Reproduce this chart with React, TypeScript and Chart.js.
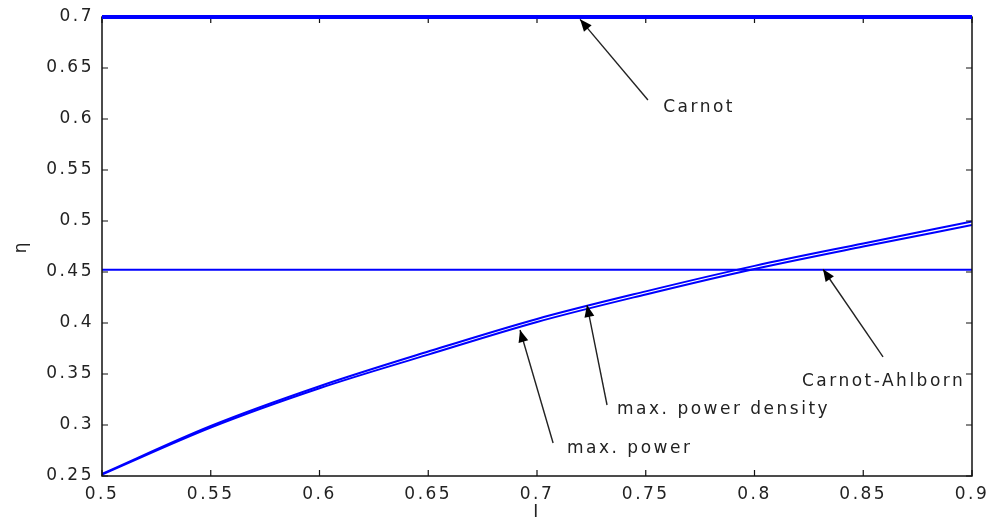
import React, { useEffect, useRef } from "react";
import { Chart, registerables } from "chart.js";

Chart.register(...registerables);

// ---- data ----
const X_VALUES = [0.5, 0.55, 0.6, 0.65, 0.7, 0.75, 0.8, 0.85, 0.9];
const MAX_POWER_DENSITY = [0.252, 0.299, 0.338, 0.372, 0.404, 0.431, 0.456, 0.478, 0.4995];
const MAX_POWER = [0.2515, 0.2975, 0.336, 0.369, 0.401, 0.428, 0.453, 0.475, 0.496];
const CARNOT = 0.7;
const CARNOT_AHLBORN = 0.4523;
const X_TICKS = [0.5, 0.55, 0.6, 0.65, 0.7, 0.75, 0.8, 0.85, 0.9];
const Y_TICKS = [0.25, 0.3, 0.35, 0.4, 0.45, 0.5, 0.55, 0.6, 0.65, 0.7];
const X_LABEL = "I";
const Y_LABEL = "η";

// annotation labels (text anchor + arrow tail -> arrow tip, in data units)
const ANNOTATION_TEXT = ["Carnot", "Carnot-Ahlborn", "max. power density", "max. power"];
const ANNOTATION_TEXT_POS = [
  [0.758, 0.6108],
  [0.8218, 0.3422],
  [0.7368, 0.3147],
  [0.7138, 0.2765],
];
const ANNOTATION_ARROWS = [
  [0.751, 0.6186, 0.7198, 0.6977],
  [0.8591, 0.3667, 0.8315, 0.4527],
  [0.7322, 0.3196, 0.723, 0.4176],
  [0.7074, 0.2824, 0.6922, 0.3931],
];

const FONT_FAMILY = "'DejaVu Sans', sans-serif";
const FONT_SIZE = 17;
const SPACING = "2.5px";
const BLUE = "#0000ff";

const fmt = (v: number) => String(Number(v.toFixed(2)));

function drawArrow(ctx: CanvasRenderingContext2D, x1: number, y1: number, x2: number, y2: number) {
  ctx.beginPath();
  ctx.moveTo(x1, y1);
  ctx.lineTo(x2, y2);
  ctx.stroke();
  const a = Math.atan2(y2 - y1, x2 - x1);
  const L = 12;
  const W = 5;
  const bx = x2 - L * Math.cos(a);
  const by = y2 - L * Math.sin(a);
  ctx.beginPath();
  ctx.moveTo(x2, y2);
  ctx.lineTo(bx + W * Math.sin(a), by - W * Math.cos(a));
  ctx.lineTo(bx - W * Math.sin(a), by + W * Math.cos(a));
  ctx.closePath();
  ctx.fill();
}

const spacingPlugin = {
  id: "spacing",
  beforeLayout(chart: any) {
    chart.ctx.letterSpacing = SPACING;
  },
  beforeDraw(chart: any) {
    chart.ctx.letterSpacing = SPACING;
  },
};

const boxPlugin = {
  id: "box",
  afterDatasetsDraw(chart: any) {
    const { ctx, chartArea } = chart;
    const xs = chart.scales.x;
    const ys = chart.scales.y;
    const { left, right, top, bottom } = chartArea;
    ctx.save();
    ctx.strokeStyle = "#111";
    ctx.lineWidth = 1.5;
    ctx.strokeRect(left, top, right - left, bottom - top);
    ctx.lineWidth = 1.2;
    const T = 6;
    ctx.beginPath();
    X_TICKS.forEach((v) => {
      const px = xs.getPixelForValue(v);
      ctx.moveTo(px, bottom);
      ctx.lineTo(px, bottom - T);
      ctx.moveTo(px, top);
      ctx.lineTo(px, top + T);
    });
    Y_TICKS.forEach((v) => {
      const py = ys.getPixelForValue(v);
      ctx.moveTo(left, py);
      ctx.lineTo(left + T, py);
      ctx.moveTo(right, py);
      ctx.lineTo(right - T, py);
    });
    ctx.stroke();

    // redraw the Carnot line over the top frame
    ctx.strokeStyle = BLUE;
    ctx.lineWidth = 4;
    ctx.beginPath();
    ctx.moveTo(xs.getPixelForValue(X_VALUES[0]), ys.getPixelForValue(CARNOT));
    ctx.lineTo(xs.getPixelForValue(X_VALUES[X_VALUES.length - 1]), ys.getPixelForValue(CARNOT));
    ctx.stroke();

    // annotations
    ctx.strokeStyle = "#222";
    ctx.fillStyle = "#000";
    ctx.lineWidth = 1.4;
    ANNOTATION_ARROWS.forEach(([x1, y1, x2, y2]) => {
      drawArrow(
        ctx,
        xs.getPixelForValue(x1),
        ys.getPixelForValue(y1),
        xs.getPixelForValue(x2),
        ys.getPixelForValue(y2)
      );
    });
    ctx.font = `${FONT_SIZE}px ${FONT_FAMILY}`;
    ctx.letterSpacing = SPACING;
    ctx.fillStyle = "#222";
    ctx.textAlign = "left";
    ctx.textBaseline = "middle";
    ANNOTATION_TEXT.forEach((t, i) => {
      const [tx, ty] = ANNOTATION_TEXT_POS[i];
      ctx.fillText(t, xs.getPixelForValue(tx), ys.getPixelForValue(ty));
    });
    ctx.restore();
  },
};

export default function App() {
  const ref = useRef<HTMLCanvasElement | null>(null);

  useEffect(() => {
    if (!ref.current) return;
    const line = (vals: number[]) => X_VALUES.map((x, i) => ({ x, y: vals[i] }));
    const flat = (v: number) => [
      { x: X_VALUES[0], y: v },
      { x: X_VALUES[X_VALUES.length - 1], y: v },
    ];
    const chart = new Chart(ref.current, {
      type: "line",
      data: {
        datasets: [
          {
            label: "Carnot",
            data: flat(CARNOT),
            borderColor: BLUE,
            borderWidth: 4,
            pointRadius: 0,
            clip: false,
          },
          {
            label: "Carnot-Ahlborn",
            data: flat(CARNOT_AHLBORN),
            borderColor: BLUE,
            borderWidth: 2,
            pointRadius: 0,
          },
          {
            label: "max. power density",
            data: line(MAX_POWER_DENSITY),
            borderColor: BLUE,
            borderWidth: 2,
            pointRadius: 0,
            cubicInterpolationMode: "monotone",
          },
          {
            label: "max. power",
            data: line(MAX_POWER),
            borderColor: BLUE,
            borderWidth: 2,
            pointRadius: 0,
            cubicInterpolationMode: "monotone",
          },
        ],
      },
      options: {
        animation: false,
        responsive: true,
        maintainAspectRatio: false,
        layout: { padding: { left: 0, top: 17, right: 18, bottom: 0 } },
        plugins: { legend: { display: false }, tooltip: { enabled: false } },
        scales: {
          x: {
            type: "linear",
            min: 0.5,
            max: 0.9,
            grid: { display: false, drawTicks: false },
            border: { display: false },
            afterBuildTicks: (s: any) => {
              s.ticks = X_TICKS.map((v) => ({ value: v }));
            },
            afterFit: (s: any) => {
              s.height = 45;
              s.paddingLeft = 0;
              s.paddingRight = 0;
            },
            ticks: {
              padding: 8,
              maxRotation: 0,
              autoSkip: false,
              color: "#222",
              font: { family: FONT_FAMILY, size: FONT_SIZE },
              callback: (v: any) => fmt(Number(v)),
            },
            title: {
              display: true,
              text: X_LABEL,
              color: "#222",
              font: { family: FONT_FAMILY, size: FONT_SIZE, lineHeight: 1 },
              padding: { top: 0, bottom: 0 },
            },
          },
          y: {
            type: "linear",
            min: 0.25,
            max: 0.7,
            grid: { display: false, drawTicks: false },
            border: { display: false },
            afterBuildTicks: (s: any) => {
              s.ticks = Y_TICKS.map((v) => ({ value: v }));
            },
            afterFit: (s: any) => {
              s.width = 102;
              s.paddingTop = 0;
              s.paddingBottom = 0;
            },
            ticks: {
              padding: 8,
              autoSkip: false,
              color: "#222",
              font: { family: FONT_FAMILY, size: FONT_SIZE },
              callback: (v: any) => fmt(Number(v)),
            },
            title: {
              display: true,
              text: Y_LABEL,
              color: "#222",
              font: { family: FONT_FAMILY, size: FONT_SIZE, lineHeight: 1 },
              padding: { top: 13, bottom: 0 },
            },
          },
        },
      },
      plugins: [spacingPlugin, boxPlugin],
    } as any);
    return () => chart.destroy();
  }, []);

  return (
    <div
      style={{
        position: "fixed",
        left: 0,
        top: 0,
        width: 990,
        height: 521,
        background: "#fff",
      }}
    >
      <canvas ref={ref} />
    </div>
  );
}
